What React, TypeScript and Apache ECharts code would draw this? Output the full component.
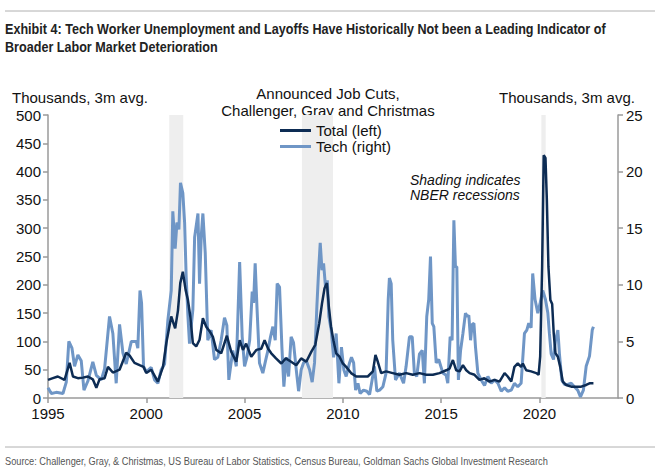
import React, { useEffect, useRef } from "react";
import * as echarts from "echarts";

const titleLines = [
  "Exhibit 4: Tech Worker Unemployment and Layoffs Have Historically Not been a Leading Indicator of",
  "Broader Labor Market Deterioration",
];
const sourceText =
  "Source: Challenger, Gray, & Christmas, US Bureau of Labor Statistics, Census Bureau, Goldman Sachs Global Investment Research";
const chartTitle = ["Announced Job Cuts,", "Challenger, Gray and Christmas"];
const axisUnit = "Thousands, 3m avg.";
const noteLines = ["Shading indicates", "NBER recessions"];
const seriesNames = ["Total (left)", "Tech (right)"];
const xTicks = [1995, 2000, 2005, 2010, 2015, 2020];
const recessions = [
  [2001.17, 2001.88],
  [2007.92, 2009.5],
  [2020.1, 2020.32],
];

const totalDates = [
  1995.0, 1995.25, 1995.5, 1995.84, 1996.1, 1996.27, 1996.52, 1996.78, 1997.03, 1997.28,
  1997.46, 1997.62, 1997.88, 1998.05, 1998.3, 1998.64, 1998.98, 1999.15, 1999.4, 1999.66,
  1999.86, 2000.0, 2000.25, 2000.59, 2000.85, 2001.02, 2001.27, 2001.47, 2001.61, 2001.73,
  2001.86, 2002.0, 2002.12, 2002.24, 2002.37, 2002.54, 2002.71, 2002.88, 2003.05, 2003.22,
  2003.39, 2003.56, 2003.81, 2004.1, 2004.32, 2004.58, 2004.75, 2004.92, 2005.08, 2005.34,
  2005.6, 2005.85, 2006.02, 2006.2, 2006.36, 2006.6, 2006.87, 2007.1, 2007.37, 2007.63,
  2007.88, 2008.14, 2008.4, 2008.6, 2008.8, 2008.94, 2009.07, 2009.19, 2009.29, 2009.4,
  2009.52, 2009.66, 2009.83, 2010.0, 2010.17, 2010.42, 2010.68, 2011.0, 2011.27, 2011.53,
  2011.66, 2011.78, 2011.95, 2012.2, 2012.54, 2012.88, 2013.22, 2013.56, 2013.9, 2014.24,
  2014.58, 2014.92, 2015.26, 2015.43, 2015.6, 2015.77, 2015.94, 2016.11, 2016.28, 2016.45,
  2016.7, 2016.95, 2017.2, 2017.46, 2017.72, 2017.97, 2018.23, 2018.39, 2018.57, 2018.73,
  2018.9, 2019.07, 2019.16, 2019.33, 2019.58, 2019.84, 2019.96, 2020.04, 2020.14, 2020.22,
  2020.31, 2020.38, 2020.46, 2020.56, 2020.65, 2020.73, 2020.82, 2020.94, 2021.06, 2021.19,
  2021.36, 2021.62, 2021.87, 2022.13, 2022.38, 2022.55, 2022.75,
];
const totalValues = [
  32, 35, 38, 32, 62, 38, 35, 36, 38, 33,
  18, 33, 35, 55, 45, 50, 80, 75, 62, 58,
  55, 44, 50, 29, 55, 97, 144, 123, 154, 203,
  223, 191, 173, 144, 97, 91, 103, 141, 126, 118,
  108, 85, 79, 110, 82, 64, 102, 85, 96, 73,
  85, 87, 102, 87, 79, 70, 61, 70, 64, 58,
  70, 64, 82, 94, 132, 167, 194, 203, 161, 126,
  102, 79, 73, 61, 55, 44, 38, 38, 38, 47,
  76, 64, 44, 47, 44, 41, 44, 41, 44, 41,
  41, 44, 49, 52, 67, 49, 47, 58, 49, 44,
  41, 32, 35, 29, 32, 29, 44, 38, 29, 55,
  61, 55, 61, 49, 47, 44, 41, 73, 232, 429,
  424, 350, 232, 173, 166, 114, 79, 73, 55, 29,
  23, 20, 20, 20, 23, 26, 26,
];

const techDates = [
  1995.0, 1995.17, 1995.42, 1995.76, 1995.93, 1996.06, 1996.22, 1996.35, 1996.52, 1996.69,
  1996.83, 1997.03, 1997.28, 1997.46, 1997.71, 1997.88, 1998.13, 1998.3, 1998.47, 1998.64,
  1998.81, 1998.98, 1999.24, 1999.49, 1999.57, 1999.68, 1999.76, 1999.86, 2000.0, 2000.25,
  2000.42, 2000.59, 2000.76, 2000.93, 2001.1, 2001.27, 2001.35, 2001.47, 2001.56, 2001.66,
  2001.74, 2001.86, 2001.95, 2002.03, 2002.12, 2002.2, 2002.37, 2002.46, 2002.63, 2002.71,
  2002.8, 2002.88, 2003.0, 2003.13, 2003.3, 2003.47, 2003.64, 2003.81, 2003.98, 2004.1,
  2004.2, 2004.4, 2004.58, 2004.75, 2004.88, 2005.0, 2005.12, 2005.26, 2005.39, 2005.46,
  2005.54, 2005.63, 2005.76, 2005.93, 2006.07, 2006.19, 2006.32, 2006.44, 2006.56, 2006.66,
  2006.78, 2006.9, 2007.0, 2007.12, 2007.24, 2007.37, 2007.49, 2007.63, 2007.75, 2007.88,
  2008.0, 2008.14, 2008.31, 2008.44, 2008.56, 2008.68, 2008.77, 2008.85, 2008.94, 2009.02,
  2009.12, 2009.21, 2009.29, 2009.41, 2009.53, 2009.66, 2009.8, 2009.93, 2010.05, 2010.17,
  2010.34, 2010.44, 2010.55, 2010.65, 2010.77, 2010.88, 2011.05, 2011.22, 2011.36, 2011.49,
  2011.61, 2011.73, 2011.87, 2012.04, 2012.2, 2012.31, 2012.37, 2012.46, 2012.54, 2012.68,
  2012.88, 2013.09, 2013.22, 2013.39, 2013.53, 2013.64, 2013.76, 2013.9, 2014.04, 2014.15,
  2014.27, 2014.37, 2014.46, 2014.55, 2014.63, 2014.75, 2014.88, 2015.09, 2015.26, 2015.34,
  2015.46, 2015.56, 2015.65, 2015.73, 2015.8, 2015.88, 2015.99, 2016.11, 2016.24, 2016.33,
  2016.41, 2016.5, 2016.58, 2016.67, 2016.75, 2016.87, 2017.04, 2017.21, 2017.38, 2017.55,
  2017.72, 2017.89, 2018.06, 2018.23, 2018.39, 2018.57, 2018.73, 2018.9, 2019.07, 2019.24,
  2019.36, 2019.46, 2019.58, 2019.66, 2019.78, 2019.92, 2020.04, 2020.17, 2020.31, 2020.43,
  2020.51, 2020.6, 2020.72, 2020.82, 2020.94, 2021.02, 2021.14, 2021.28, 2021.44, 2021.62,
  2021.78, 2021.95, 2022.09, 2022.24, 2022.38, 2022.55, 2022.69, 2022.75,
];
const techValues = [
  0.9, 0.4, 0.5, 0.4, 1.4, 5.0, 4.4, 2.8, 3.8, 3.3,
  0.7, 1.5, 3.2, 2.0, 1.6, 2.6, 7.2, 5.7, 1.3, 6.5,
  4.0, 3.0, 5.0, 5.0, 4.4, 9.5, 8.4, 2.8, 2.3, 2.7,
  1.6, 1.3, 2.5, 3.0, 6.9, 9.5, 16.5, 13.2, 15.5, 14.9,
  19.0, 18.1, 15.5, 10.7, 7.2, 4.8, 7.8, 14.2, 16.3, 10.1,
  14.4, 16.3, 12.8, 5.1, 6.0, 3.4, 3.6, 5.1, 7.1, 6.4,
  1.6, 4.2, 2.8, 12.0, 5.4, 2.8, 3.6, 5.1, 9.4, 8.4,
  11.9, 8.1, 3.1, 2.2, 3.3, 4.2, 5.4, 6.3, 5.1, 10.1,
  9.8, 4.5, 1.0, 3.6, 1.9, 5.4, 4.9, 2.5, 0.6, 2.5,
  3.1, 3.3, 2.5, 1.4, 3.1, 8.1, 11.3, 13.7, 11.3, 11.9,
  9.8, 10.4, 7.2, 6.0, 3.6, 5.7, 1.3, 4.5, 2.5, 1.9,
  3.1, 3.6, 3.1, 0.7, 1.3, 0.4, 0.7, 0.6, 0.3, 1.6,
  2.8, 0.6, 0.7, 1.0, 2.2, 8.7, 10.6, 10.1, 5.1, 1.6,
  2.2, 1.3, 2.8, 5.4, 5.4, 2.2, 1.9, 3.9, 4.2, 1.3,
  7.2, 8.7, 12.5, 6.6, 6.3, 3.1, 3.4, 2.2, 2.0, 1.3,
  5.4, 5.1, 15.7, 11.6, 11.6, 1.6, 4.2, 5.7, 7.5, 7.2,
  7.3, 5.1, 6.5, 6.6, 4.5, 2.2, 1.6, 1.1, 1.9, 1.3,
  1.6, 1.3, 0.6, 0.9, 0.6, 0.7, 1.3, 1.0, 1.3, 5.7,
  6.0, 6.6, 6.2, 11.0, 8.7, 7.5, 8.4, 9.5, 8.7, 7.5,
  5.7, 3.9, 3.4, 5.1, 6.0, 3.9, 1.6, 1.2, 1.2, 1.3,
  1.0, 0.7, 0.1, 0.7, 2.8, 3.7, 6.0, 6.3,
];

const NAVY = "#0d2c54";
const LIGHT = "#6f96c6";
const AXIS = "#9a9a9a";
const SANS = "'Liberation Sans', Arial, sans-serif";

export default function App() {
  const ref = useRef<HTMLDivElement>(null);
  useEffect(() => {
    if (!ref.current) return;
    const chart = echarts.init(ref.current, undefined, { renderer: "svg" });
    const totalData = totalDates.map((d, i) => [d, totalValues[i]]);
    const techData = techDates.map((d, i) => [d, techValues[i]]);
    const txt = (x: number, y: number, text: string, style: any = {}, extra: any = {}) => ({
      type: "text",
      x,
      y,
      silent: true,
      ...extra,
      style: { text, fontFamily: SANS, fontSize: 15, fill: "#111", textVerticalAlign: "middle", ...style },
    });
    chart.setOption({
      animation: false,
      backgroundColor: "#ffffff",
      grid: { left: 48, right: 42, top: 115, bottom: 74, containLabel: false },
      legend: {
        orient: "vertical",
        left: 275,
        top: 118,
        itemGap: 1,
        itemWidth: 31,
        itemHeight: 3,
        icon: "rect",
        data: seriesNames,
        textStyle: { fontFamily: SANS, fontSize: 15, color: "#111" },
      },
      xAxis: {
        type: "value",
        min: 1995,
        max: 2024,
        interval: 5,
        splitLine: { show: false },
        axisLine: { show: true, lineStyle: { color: AXIS, width: 1.5 } },
        axisTick: { show: true, length: 5, lineStyle: { color: AXIS, width: 1.5 }, customValues: xTicks },
        axisLabel: {
          customValues: xTicks,
          fontFamily: SANS,
          fontSize: 15,
          color: "#111",
          margin: 8,
          formatter: (v: number) => (xTicks.includes(v) ? String(v) : ""),
        },
      },
      yAxis: [
        {
          type: "value",
          min: 0,
          max: 500,
          interval: 50,
          position: "left",
          splitLine: { show: false },
          axisLine: { show: true, lineStyle: { color: AXIS, width: 1.5 } },
          axisTick: { show: true, length: 5, lineStyle: { color: AXIS, width: 1.5 } },
          axisLabel: { fontFamily: SANS, fontSize: 15, color: "#111", margin: 7 },
        },
        {
          type: "value",
          min: 0,
          max: 25,
          interval: 5,
          position: "right",
          splitLine: { show: false },
          axisLine: { show: true, lineStyle: { color: AXIS, width: 1.5 } },
          axisTick: { show: true, length: 5, lineStyle: { color: AXIS, width: 1.5 } },
          axisLabel: { fontFamily: SANS, fontSize: 15, color: "#111", margin: 8 },
        },
      ],
      series: [
        {
          name: "recessions",
          type: "line",
          data: [],
          z: 1,
          silent: true,
          markArea: {
            silent: true,
            itemStyle: { color: "#eeeeee" },
            data: recessions.map(([a, b]) => [{ xAxis: a }, { xAxis: b }]),
          },
        },
        {
          name: seriesNames[1],
          type: "line",
          yAxisIndex: 1,
          data: techData,
          showSymbol: false,
          symbol: "none",
          z: 2,
          lineStyle: { color: LIGHT, width: 3 },
          itemStyle: { color: LIGHT },
        },
        {
          name: seriesNames[0],
          type: "line",
          yAxisIndex: 0,
          data: totalData,
          showSymbol: false,
          symbol: "none",
          z: 3,
          lineStyle: { color: NAVY, width: 2.5 },
          itemStyle: { color: NAVY },
        },
      ],
      graphic: [
        { type: "line", silent: true, shape: { x1: 5, y1: 11, x2: 655, y2: 11 }, style: { stroke: "#b0b0b0", lineWidth: 1 } },
        txt(5, 29, titleLines[0], { fontWeight: "bold", fontSize: 15, fill: "#222" }, { scaleX: 0.84 }),
        txt(5, 47, titleLines[1], { fontWeight: "bold", fontSize: 15, fill: "#222" }, { scaleX: 0.84 }),
        txt(12, 97, axisUnit),
        txt(499, 97, axisUnit),
        txt(328, 93, chartTitle[0], { textAlign: "center" }),
        txt(328, 110, chartTitle[1], { textAlign: "center" }),
        txt(410, 180, noteLines[0], { fontStyle: "italic", fontSize: 14 }),
        txt(410, 195, noteLines[1], { fontStyle: "italic", fontSize: 14 }),
        { type: "line", silent: true, shape: { x1: 5, y1: 447, x2: 655, y2: 447 }, style: { stroke: "#b0b0b0", lineWidth: 1 } },
        txt(5, 461, sourceText, { fontSize: 11, fill: "#555" }, { scaleX: 0.84 }),
      ],
    });
    return () => chart.dispose();
  }, []);
  return <div ref={ref} style={{ position: "fixed", left: 0, top: 0, width: 660, height: 472 }} />;
}
